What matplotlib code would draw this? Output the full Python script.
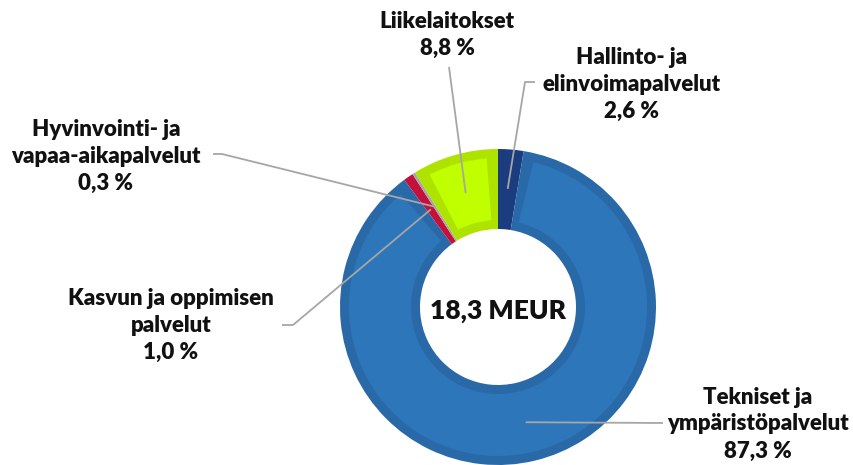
import matplotlib.pyplot as plt
import numpy as np
from matplotlib.patches import Wedge

plt.rcParams['font.family'] = ['Lato', 'DejaVu Sans']

# data, clockwise from top
labels = ["Hallinto- ja\nelinvoimapalvelut", "Tekniset ja\nympäristöpalvelut",
          "Kasvun ja oppimisen\npalvelut", "Hyvinvointi- ja\nvapaa-aikapalvelut",
          "Liikelaitokset"]
shares = [2.6, 87.3, 1.0, 0.3, 8.8]
total_label = "18,3 MEUR"

colors = ["#1B3C7E", "#2A69A8", "#C4103A", "#A6A6A6", "#AEE300"]
inner_colors = [None, "#2E76BA", None, None, "#C0FF00"]

# label text centre (pixels) and leader elbow points (pixels)
label_pos = [(632, 84), (758, 424), (171, 325), (106, 156), (447, 35)]
leader_start = [[(535, 82), (525, 82)], [(663, 423)], [(282, 325), (293, 325)],
                [(213, 154), (222, 154)], [(449, 67)]]

W, H = 854, 465
cx, cy, R = 498, H - 307, 158
ring = 80

fig = plt.figure(figsize=(W / 100, H / 100), dpi=100)
ax = fig.add_axes([0, 0, 1, 1])

wedges, _ = ax.pie(shares, colors=colors, startangle=90, counterclock=False,
                   center=(cx, cy), radius=R,
                   wedgeprops=dict(width=ring, linewidth=0))

# lighter inner face for the bevel look
bev = 9
for w, c in zip(wedges, inner_colors):
    if c is None:
        continue
    dth = np.degrees(bev / (R - ring / 2))
    ax.add_patch(Wedge((cx, cy), R - bev, w.theta1 + dth, w.theta2 - dth,
                       width=ring - 2 * bev, color=c, linewidth=0))

# leader lines and labels
for w, lab, share, pos, pts in zip(wedges, labels, shares, label_pos, leader_start):
    mid = np.radians((w.theta1 + w.theta2) / 2)
    ex = cx + 0.75 * R * np.cos(mid)
    ey = cy + 0.75 * R * np.sin(mid)
    xs = [p[0] for p in pts] + [ex]
    ys = [H - p[1] for p in pts] + [ey]
    ax.plot(xs, ys, color="#A6A6A6", linewidth=1.3, solid_capstyle='butt')
    txt = lab + "\n" + ("%.1f %%" % share).replace(".", ",")
    ax.text(pos[0], H - pos[1], txt, ha='center', va='center', fontsize=16,
            fontweight='heavy', linespacing=1.35, color="#111111")

ax.text(cx, H - 311, total_label, ha='center', va='center', fontsize=19,
        fontweight='heavy', color="#111111")

ax.set_xlim(0, W)
ax.set_ylim(0, H)
ax.set_aspect('equal')
ax.axis('off')

plt.savefig("out.png", dpi=100)
